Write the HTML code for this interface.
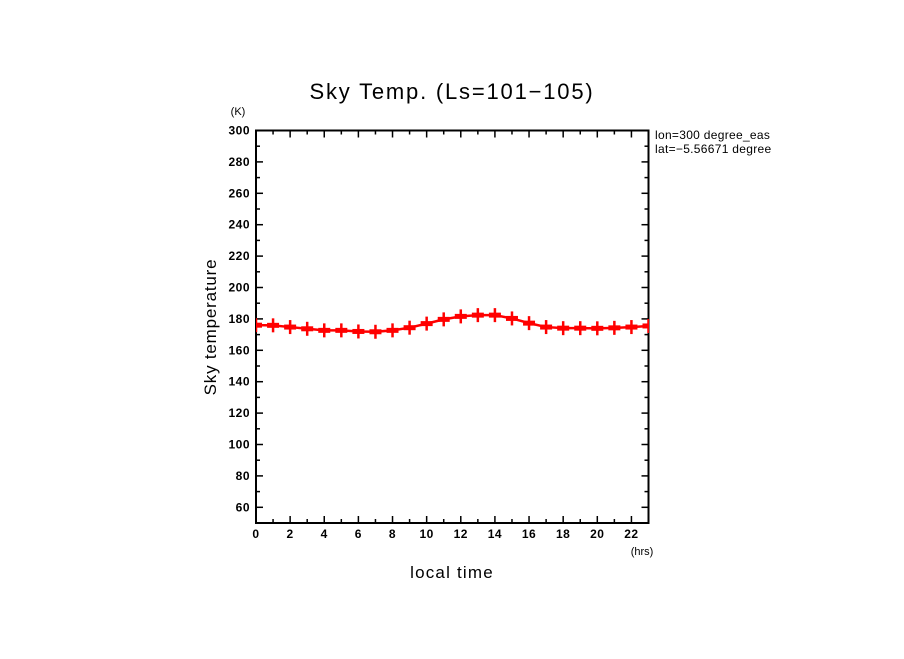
<!DOCTYPE html>
<html><head><meta charset="utf-8"><style>
body{margin:0;background:#fff;}
svg text{font-family:"Liberation Sans",sans-serif;}
</style></head><body>
<svg width="904" height="654" viewBox="0 0 904 654" xmlns="http://www.w3.org/2000/svg">
<defs><clipPath id="plotclip"><rect x="256" y="130" width="393" height="393"/></clipPath></defs>
<text x="452" y="99" font-size="22" letter-spacing="1.8" text-anchor="middle">Sky Temp. (Ls=101−105)</text>
<text x="238" y="115" font-size="11" text-anchor="middle">(K)</text>
<text x="642" y="555" font-size="11" text-anchor="middle">(hrs)</text>
<text x="452" y="578" font-size="17" letter-spacing="1.2" text-anchor="middle">local time</text>
<text transform="translate(216,327) rotate(-90)" font-size="17" letter-spacing="0.8" text-anchor="middle">Sky temperature</text>
<text x="655" y="139" font-size="12" letter-spacing="0.3">lon=300 degree_eas</text>
<text x="655" y="153" font-size="12" letter-spacing="0.3">lat=−5.56671 degree</text>
<rect x="780" y="125" width="60" height="35" fill="#fff"/>
<g id="axes"></g>
<g id="series" clip-path="url(#plotclip)"></g>
</svg>
<script>
const hours=[0,1,2,3,4,5,6,7,8,9,10,11,12,13,14,15,16,17,18,19,20,21,22,23];
const temps=[176,175.9,174.8,173.7,172.7,172.7,172,171.8,172.7,174.4,177,179.7,181.6,182.4,182.4,180.3,177.3,174.8,174.1,174.1,174,174.3,174.8,175.5];
const yTicks=[60,80,100,120,140,160,180,200,220,240,260,280,300];
const xTicks=[0,2,4,6,8,10,12,14,16,18,20,22];
const X0=256,X1=648.5,Y0=523,Y1=130.5,XMIN=0,XMAX=23,YMIN=50,YMAX=300;
const sx=v=>X0+(v-XMIN)/(XMAX-XMIN)*(X1-X0);
const sy=v=>Y0-(v-YMIN)/(YMAX-YMIN)*(Y0-Y1);
const NS="http://www.w3.org/2000/svg";
function mk(t,a,p){const e=document.createElementNS(NS,t);for(const k in a)e.setAttribute(k,a[k]);p.appendChild(e);return e;}
const ax=document.getElementById('axes');
const frame=mk('rect',{x:X0,y:Y1,width:X1-X0,height:Y0-Y1,fill:'none',stroke:'#000','stroke-width':2},ax);


for(let h=XMIN;h<=XMAX;h++){const x=sx(h),L=h%2==0?7:4;
mk('line',{x1:x,x2:x,y1:Y0,y2:Y0-L,stroke:'#000','stroke-width':1.5},ax);
mk('line',{x1:x,x2:x,y1:Y1,y2:Y1+L,stroke:'#000','stroke-width':1.5},ax);}
for(let v=YMIN;v<=YMAX;v+=10){const y=sy(v),L=v%20==0?7:4;
mk('line',{x1:X0,x2:X0+L,y1:y,y2:y,stroke:'#000','stroke-width':1.5},ax);
mk('line',{x1:X1,x2:X1-L,y1:y,y2:y,stroke:'#000','stroke-width':1.5},ax);}
xTicks.forEach(v=>{const t=mk('text',{x:sx(v),y:Y0+15,'font-size':12,'font-weight':'bold','letter-spacing':0.5,'text-anchor':'middle'},ax);t.textContent=v;

});
yTicks.forEach(v=>{const t=mk('text',{x:X0-6,y:sy(v)+4,'font-size':12,'font-weight':'bold','letter-spacing':0.5,'text-anchor':'end'},ax);t.textContent=v;

});
const sg=document.getElementById('series');
const line=mk('polyline',{points:hours.map((h,i)=>sx(h)+','+sy(temps[i])).join(' '),fill:'none',stroke:'#ff0000','stroke-width':2.5},sg);


hours.forEach((h,i)=>{const x=sx(h),y=sy(temps[i]);
const g=mk('g',{},sg);


mk('rect',{x:x-6,y:y-2.5,width:12,height:5,fill:'#ff0000'},g);
mk('line',{x1:x,x2:x,y1:y-7,y2:y+7,stroke:'#ff0000','stroke-width':2.5},g);});
</script>
</body></html>
